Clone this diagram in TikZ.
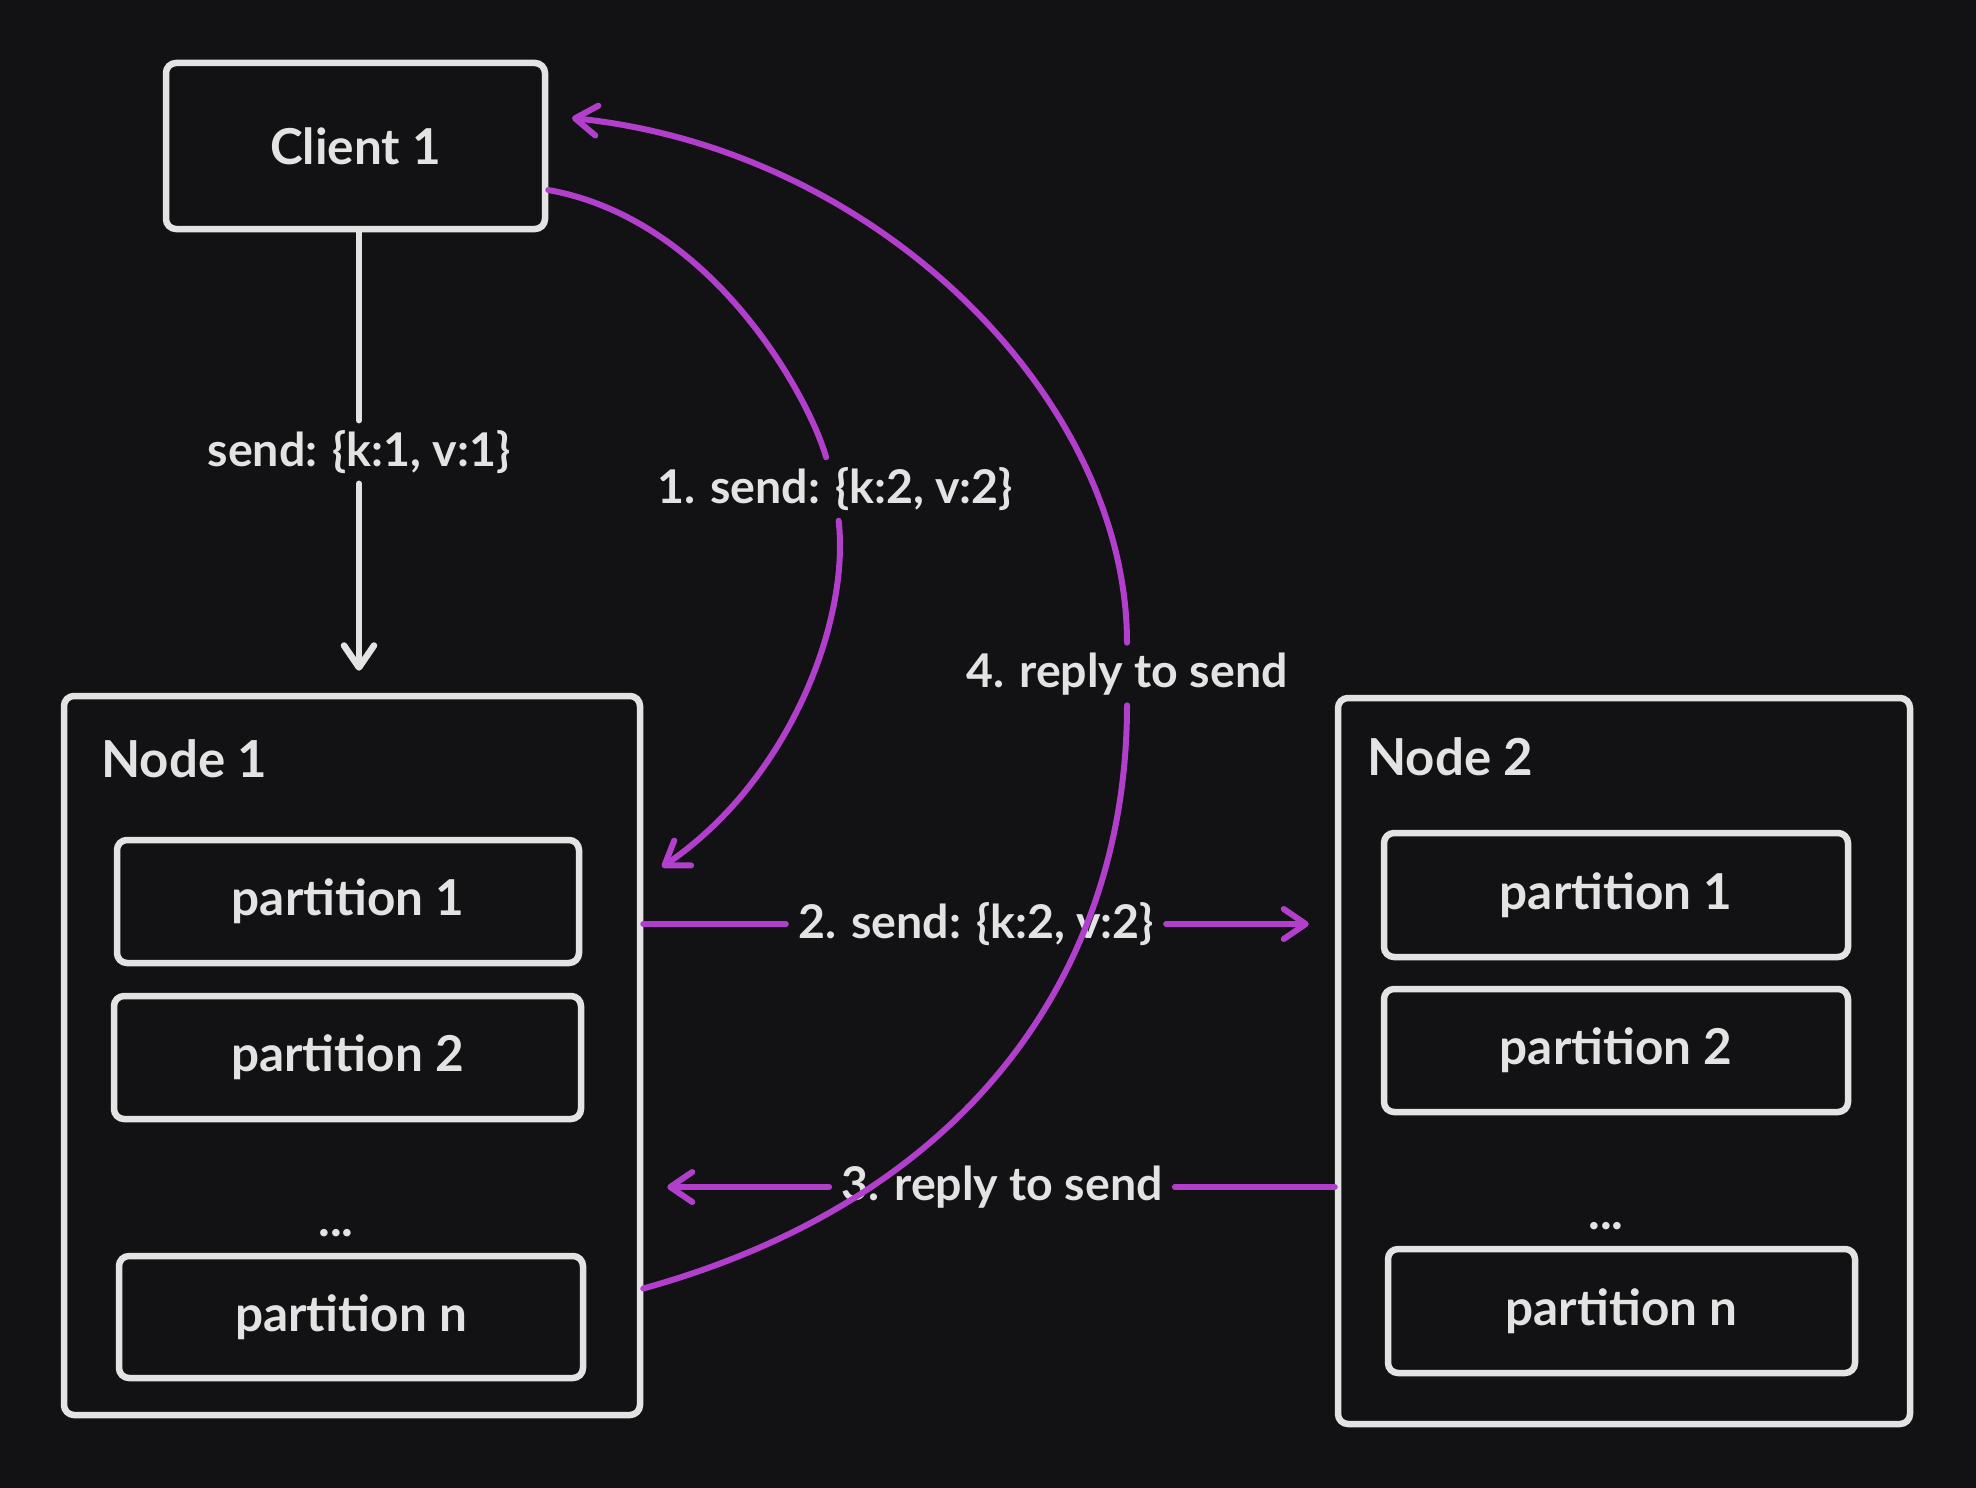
\documentclass[tikz,border=0pt]{standalone}
\usepackage{fontspec}
\setmainfont{Lato}
\usetikzlibrary{arrows.meta,calc}
\definecolor{bg}{HTML}{121214}
\definecolor{fg}{HTML}{E3E3E3}
\definecolor{pur}{HTML}{B13FCB}
\begin{document}
\begin{tikzpicture}[x=1pt,y=-1pt,
  box/.style={draw=fg, line width=6.5pt, fill=bg, rounded corners=10pt, inner sep=0pt, text=fg, font=\fontsize{49.5}{58}\selectfont\bfseries},
  txt/.style={text=fg, inner sep=0pt, font=\fontsize{49.5}{58}\selectfont\bfseries},
  lbl/.style={fill=bg, text=fg, inner xsep=12pt, inner ysep=10pt, font=\fontsize{46.5}{54}\selectfont\bfseries},
  wline/.style={draw=fg, line width=6.5pt, line cap=round},
  pline/.style={draw=pur, line width=6pt, line cap=round},
  arrowend/.style={-{Straight Barb[length=22pt, width=30pt, round]}}
]
\fill[bg] (0,0) rectangle (1976,1488);
\useasboundingbox (0,0) rectangle (1976,1488);

% client
\node[box, minimum width=379pt, minimum height=166pt] (client) at (355.5,146) {Client 1};

% node 1
\node[box, minimum width=576pt, minimum height=719pt] (node1) at (352,1055.5) {};
\node[txt, anchor=base west, font=\fontsize{51}{60}\selectfont\bfseries] (n1lbl) at (101,777) {Node 1};
\node[box, minimum width=462pt, minimum height=123pt] (n1p1) at (348,901.5) {partition 1};
\node[box, minimum width=467pt, minimum height=123pt] (n1p2) at (347.5,1057.5) {partition 2};
\node[txt, anchor=base] (n1dots) at (336,1236) {...};
\node[box, minimum width=464pt, minimum height=122pt] (n1pn) at (351,1317) {partition n};

% node 2
\node[box, minimum width=572pt, minimum height=726pt] (node2) at (1624,1061) {};
\node[txt, anchor=base west, font=\fontsize{51}{60}\selectfont\bfseries] (n2lbl) at (1367,775) {Node 2};
\node[box, minimum width=464pt, minimum height=124pt] (n2p1) at (1616,895) {partition 1};
\node[box, minimum width=464pt, minimum height=123pt] (n2p2) at (1616,1050.5) {partition 2};
\node[txt, anchor=base] (n2dots) at (1606,1229) {...};
\node[box, minimum width=467pt, minimum height=124pt] (n2pn) at (1621.5,1311) {partition n};

% client -> node 1
\node[lbl] (l0) at (359,452) {send: \{k:1, v:1\}};
\draw[wline] (client.south -| l0) -- (l0);
\draw[wline, arrowend, shorten >=22pt] (l0) -- (l0 |- node1.north);

% 1. send
\coordinate (t1) at (662,867);
\node[lbl] (l1) at (835,489) {1. send: \{k:2, v:2\}};
\draw[pline] ([yshift=-44pt]client.east) .. controls (715,220) and (810,400) .. (l1);
\draw[pline, arrowend] (l1) .. controls (850,620) and (790,780) .. (t1);

% 2. send
\node[lbl] (l2) at (976,924) {2. send: \{k:2, v:2\}};
\draw[pline] (l2 -| node1.east) -- (l2);
\draw[pline, arrowend, shorten >=26pt] (l2) -- (l2 -| node2.west);

% 3. reply
\node[lbl] (l3) at (1002,1187) {3. reply to send};
\draw[pline] (l3 -| node2.west) -- (l3);
\draw[pline, arrowend, shorten >=24pt] (l3) -- (l3 -| node1.east);

% 4. reply
\coordinate (t4) at (572,118);
\node[lbl] (l4) at (1127,674) {4. reply to send};
\draw[pline] ([yshift=-233pt]node1.east) .. controls (980,1195) and (1127,960) .. (l4);
\draw[pline, arrowend] (l4) .. controls (1127,400) and (880,150) .. (t4);
\end{tikzpicture}
\end{document}
